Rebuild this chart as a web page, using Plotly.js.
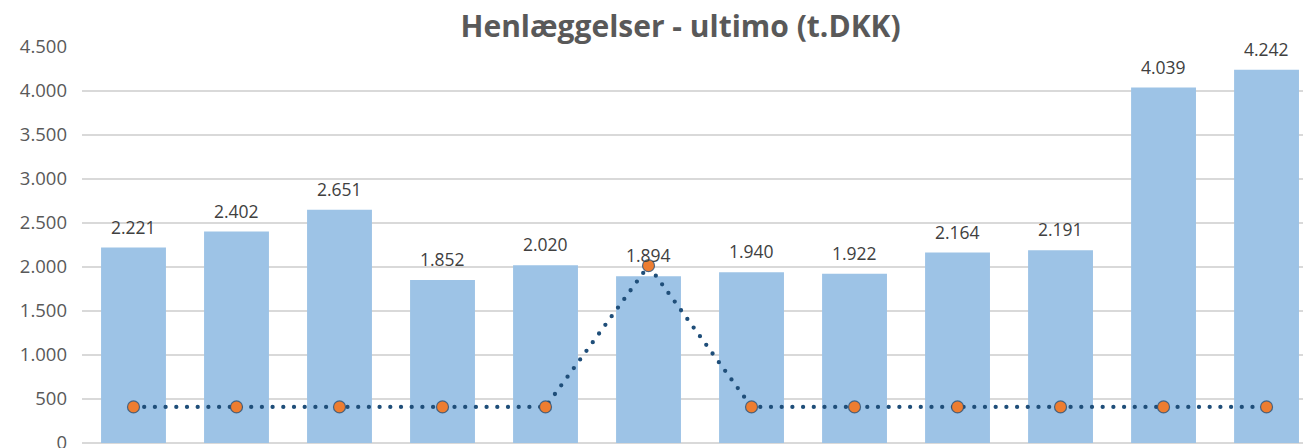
<!DOCTYPE html>
<html>
<head>
<meta charset="utf-8">
<script src="https://cdn.plot.ly/plotly-3.0.1.min.js"></script>
<style>
html,body{margin:0;padding:0;background:#fff;}
#chart{width:1303px;height:448px;}
.js-line{stroke-linecap:round;}
</style>
</head>
<body>
<div id="chart"></div>
<script>
const categories = ["P1","P2","P3","P4","P5","P6","P7","P8","P9","P10","P11","P12"];
const henlaeggelser = [2221, 2402, 2651, 1852, 2020, 1894, 1940, 1922, 2164, 2191, 4039, 4242];
const linjeSerie = [410, 410, 410, 410, 410, 2015, 410, 410, 410, 410, 410, 410];
const yTicks = [0, 500, 1000, 1500, 2000, 2500, 3000, 3500, 4000, 4500];
const titleText = "Henlæggelser - ultimo (t.DKK)";

const barTrace = {
  type: "bar",
  x: categories,
  y: henlaeggelser,
  marker: {color: "#9dc3e6"},
  hoverinfo: "y"
};

const lineTrace = {
  type: "scatter",
  mode: "lines+markers",
  x: categories,
  y: linjeSerie,
  line: {color: "#1f4e79", width: 4.3, dash: "0px,10.7px"},
  marker: {color: "#ed7d31", size: 12, line: {color: "rgba(31,78,121,0.75)", width: 1.2}},
  cliponaxis: false,
  hoverinfo: "y"
};

const fmt = v => v.toLocaleString("de-DE");
const labelAnnotations = categories.map((c, i) => ({
  x: i,
  y: henlaeggelser[i],
  xref: "x",
  yref: "y",
  text: fmt(henlaeggelser[i]),
  showarrow: false,
  yanchor: "bottom",
  yshift: 7,
  font: {family: "Open Sans", size: 17.5, color: "#404040"}
}));

const layout = {
  width: 1303,
  height: 448,
  margin: {l: 82, r: 0, t: 47, b: 5},
  paper_bgcolor: "#ffffff",
  plot_bgcolor: "#ffffff",
  separators: ",.",
  showlegend: false,
  bargap: 0.37,
  title: {
    text: "<b>" + titleText + "</b>",
    font: {family: "Open Sans", size: 30, color: "#595959"},
    xref: "container", x: 0.5223, xanchor: "center",
    yref: "container", y: 0.94, yanchor: "middle"
  },
  annotations: labelAnnotations,
  xaxis: {
    type: "category",
    range: [-0.5, 11.354],
    showticklabels: false,
    showgrid: false,
    zeroline: false,
    showline: false,
    ticks: ""
  },
  yaxis: {
    range: [0, 4500],
    tickvals: yTicks,
    tickformat: ",d",
    tickfont: {family: "Open Sans", size: 18.5, color: "#595959"},
    gridcolor: "#d9d9d9",
    gridwidth: 1.3,
    zeroline: true,
    zerolinecolor: "#d9d9d9",
    zerolinewidth: 1.3,
    showline: false,
    ticks: "",
    ticklabelstandoff: 14,
    ticklabeloverflow: "allow"
  }
};

Plotly.newPlot("chart", [barTrace, lineTrace], layout, {displayModeBar: false, staticPlot: true});
</script>
</body>
</html>
